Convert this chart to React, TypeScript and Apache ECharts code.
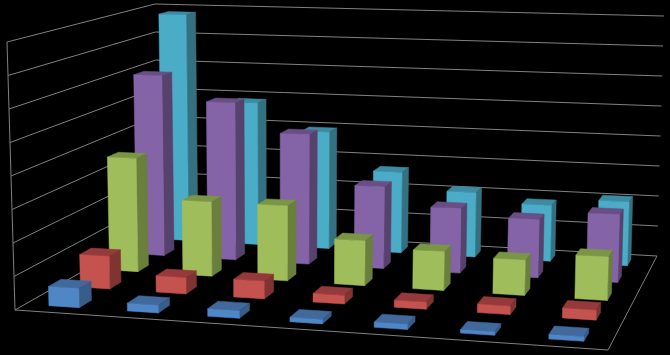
import React, { useEffect, useRef } from "react";
import * as echarts from "echarts";

const categories = ["1", "2", "3", "4", "5", "6", "7"];
const yTicks = [0, 1, 2, 3, 4, 5, 6, 7, 8];
const blueValues = [0.58, 0.23, 0.22, 0.13, 0.15, 0.1, 0.13];
const redValues = [1.02, 0.5, 0.54, 0.26, 0.21, 0.25, 0.29];
const greenValues = [3.66, 2.37, 2.37, 1.4, 1.2, 1.08, 1.32];
const purpleValues = [6.02, 5.2, 4.25, 2.65, 2.07, 1.84, 2.13];
const cyanValues = [7.82, 4.85, 3.95, 2.7, 2.14, 1.84, 2.08];

type Pt = [number, number];
const W = 670;
const H = 355;
// picture-plane corners of the 3D box: floor and ceiling
const floorCorners: Pt[] = [[15, 310], [608, 350], [657, 256], [158.5, 228]];
const topCorners: Pt[] = [[7, 42], [615, 59], [664, 16], [155, 4]];

function homography(c: Pt[]) {
  const [[x0, y0], [x1, y1], [x2, y2], [x3, y3]] = c;
  const dx1 = x1 - x2, dx2 = x3 - x2, sx = x0 - x1 + x2 - x3;
  const dy1 = y1 - y2, dy2 = y3 - y2, sy = y0 - y1 + y2 - y3;
  const den = dx1 * dy2 - dx2 * dy1;
  const g = (sx * dy2 - dx2 * sy) / den;
  const h = (dx1 * sy - sx * dy1) / den;
  const a = x1 - x0 + g * x1, b = x3 - x0 + h * x3;
  const d = y1 - y0 + g * y1, e = y3 - y0 + h * y3;
  return (u: number, v: number): Pt => {
    const w = g * u + h * v + 1;
    return [(a * u + b * v + x0) / w, (d * u + e * v + y0) / w];
  };
}
const floorMap = homography(floorCorners);
const topMap = homography(topCorners);
const PERSPECTIVE_WARP = 0.013;
function project(u: number, v: number, f: number): Pt {
  const uw = u - PERSPECTIVE_WARP * u * (1 - u);
  const p = floorMap(uw, v);
  const q = topMap(uw, v);
  return [p[0] + (q[0] - p[0]) * f, p[1] + (q[1] - p[1]) * f];
}

const BAR = 0.39; // share of a cell taken by a bar
const DEPTHS = 5;

function barItem(depth: number, colors: string[]) {
  return (_: any, api: any) => {
    const c = api.value(0);
    const v = api.value(1);
    const pt = api.coord([c, v]);
    const base = api.coord([c, 0]);
    const band = api.size([1, 0])[0];
    const f = (base[1] - pt[1]) / H;
    const uc = pt[0] / W;
    const du = (band / W) * BAR * 0.5;
    const u0 = uc - du, u1 = uc + du;
    const v0 = (depth + 0.5 - BAR / 2) / DEPTHS;
    const v1 = (depth + 0.5 + BAR / 2) / DEPTHS;
    const poly = (pts: Pt[], fill: string) => ({
      type: "polygon",
      shape: { points: pts },
      style: { fill, stroke: fill, lineWidth: 0.5 },
    });
    return {
      type: "group",
      children: [
        poly([project(u0, v0, f), project(u1, v0, f), project(u1, v1, f), project(u0, v1, f)], colors[1]),
        poly([project(u1, v0, 0), project(u1, v1, 0), project(u1, v1, f), project(u1, v0, f)], colors[2]),
        poly([project(u0, v0, 0), project(u1, v0, 0), project(u1, v0, f), project(u0, v0, f)], colors[0]),
      ],
    };
  };
}

function wallItem(_: any, api: any) {
  const pt = api.coord([0, api.value(1)]);
  const base = api.coord([0, 0]);
  const f = (base[1] - pt[1]) / H;
  const style = { stroke: "#808080", lineWidth: 1, fill: "none" };
  const children: any[] = [
    { type: "polyline", shape: { points: [project(0, 0, f), project(0, 1, f), project(1, 1, f)] }, style },
  ];
  if (f === 0) {
    children.push({ type: "polyline", shape: { points: [project(0, 0, 1), project(0, 0, 0), project(1, 0, 0), project(1, 1, 0)] }, style });
  }
  return { type: "group", children };
}

const seriesList: { name: string; depth: number; values: number[]; colors: string[] }[] = [
  { name: "E", depth: 4, values: cyanValues, colors: ["#4bacc8", "#3d8aa2", "#34707f"] },
  { name: "D", depth: 3, values: purpleValues, colors: ["#8464a6", "#6a4f87", "#57426e"] },
  { name: "C", depth: 2, values: greenValues, colors: ["#9fbe5b", "#7a9645", "#6a7f3c"] },
  { name: "B", depth: 1, values: redValues, colors: ["#c4524e", "#96393a", "#7f3431"] },
  { name: "A", depth: 0, values: blueValues, colors: ["#4f86c6", "#41699c", "#385d8a"] },
];

export default function App() {
  const ref = useRef<HTMLDivElement>(null);
  useEffect(() => {
    const chart = echarts.init(ref.current!, undefined, { renderer: "svg", width: W, height: H });
    chart.setOption({
      animation: false,
      backgroundColor: "#000000",
      grid: { left: 0, top: 0, width: W, height: H },
      xAxis: { type: "category", data: categories, show: false },
      yAxis: { type: "value", min: 0, max: 8, interval: 1, show: false },
      series: [
        {
          type: "custom",
          name: "walls",
          renderItem: wallItem,
          data: yTicks.map((t) => [0, t]),
          silent: true,
          clip: false,
        },
        ...seriesList.map((s) => ({
          type: "custom",
          name: s.name,
          renderItem: barItem(s.depth, s.colors),
          data: s.values.map((v, i) => [i, v]),
          encode: { x: 0, y: 1 },
          silent: true,
          clip: false,
        })),
      ],
    });
    return () => chart.dispose();
  }, []);
  return <div ref={ref} style={{ position: "fixed", left: 0, top: 0, width: W, height: H, background: "#000" }} />;
}
